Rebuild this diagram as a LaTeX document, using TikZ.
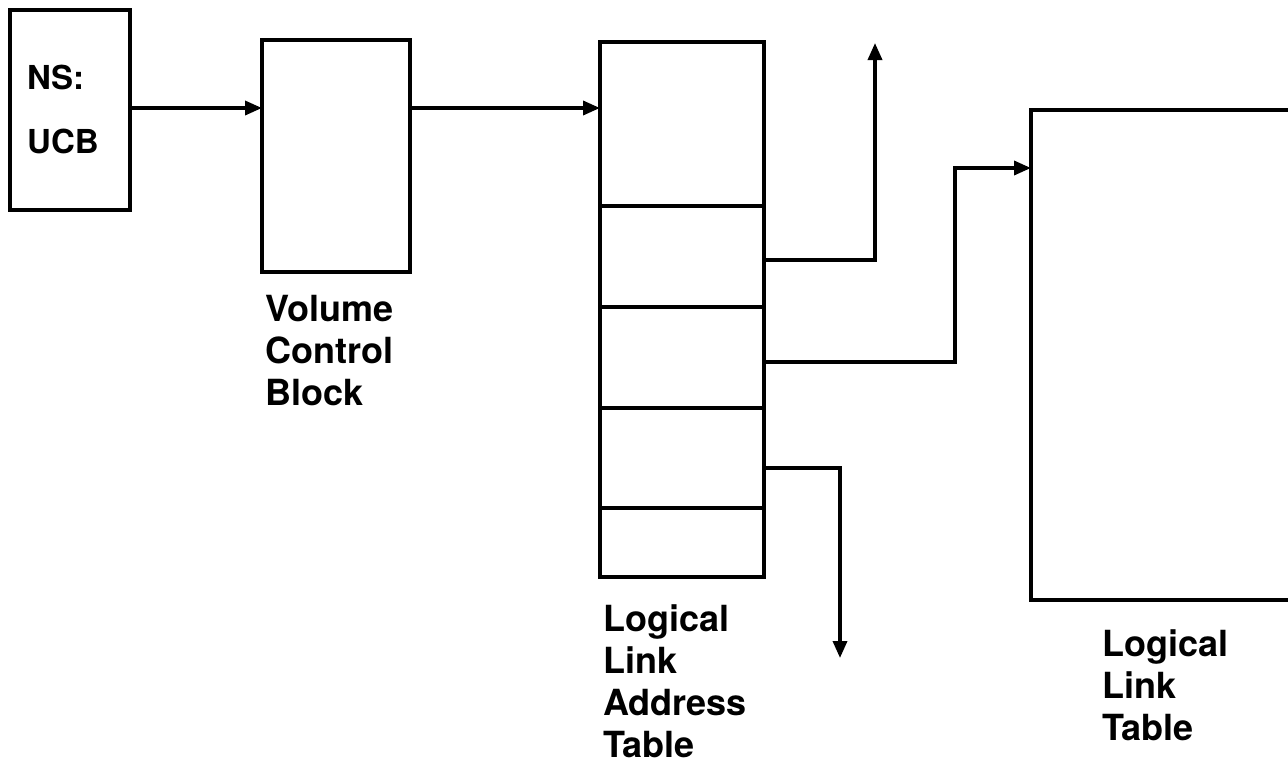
\documentclass[tikz,border=0pt]{standalone}
\usepackage{fontspec}
\setmainfont{TeX Gyre Heros}
\usetikzlibrary{arrows.meta,calc}
\tikzset{
  box/.style={draw, line width=3.5pt, inner sep=0pt, outer sep=0pt},
  arr/.style={line width=3.5pt, -{Triangle[length=17pt,width=14pt]}},
  lab/.style={font=\bfseries\fontsize{36}{42}\selectfont, align=left, anchor=north west, inner sep=0pt},
  nslab/.style={font=\bfseries\fontsize{33}{64}\selectfont, align=left, anchor=north west, inner sep=0pt}
}
\begin{document}
\begin{tikzpicture}[x=1pt,y=-1pt]
\useasboundingbox (0,0) rectangle (1288,763);
% NS:UCB box
\node[box, minimum width=120pt, minimum height=200pt] (ns) at (70,110) {};
\node[nslab] (nstext) at (27,65) {NS:\\UCB};
% Volume Control Block
\node[box, minimum width=148pt, minimum height=232pt] (vcb) at (336,156) {};
\node[lab] (vcblab) at (265,295) {Volume\\Control\\Block};
% Logical Link Address Table
\node[box, minimum width=164pt, minimum height=164pt] (row1) at (682,124) {};
\node[box, minimum width=164pt, minimum height=101pt] (row2) at (682,256.5) {};
\node[box, minimum width=164pt, minimum height=101pt] (row3) at (682,357.5) {};
\node[box, minimum width=164pt, minimum height=100pt] (row4) at (682,458) {};
\node[box, minimum width=164pt, minimum height=69pt] (row5) at (682,542.5) {};
\node[lab] (llatlab) at (603,604) {Logical\\Link\\Address\\Table};
% Logical Link Table
\node[box, minimum width=309pt, minimum height=490pt] (llt) at (1185.5,355) {};
\node[lab] (lltlab) at (1102,629) {Logical\\Link\\Table};
% connectors
\coordinate (a1) at ([yshift=16pt]row1.west);
\draw[arr] (ns.east |- a1) -- (vcb.west |- a1);
\draw[arr] (vcb.east |- a1) -- (a1);
\coordinate (up) at (875,43);
\draw[arr] ([yshift=-3.5pt]row2.east) -| (up);
\draw[arr] ([yshift=-4.5pt]row3.east) -- ++(191,0) |- ([yshift=187pt]llt.west);
\coordinate (down) at (840,658);
\draw[arr] ([yshift=-10pt]row4.east) -| (down);
\end{tikzpicture}
\end{document}
